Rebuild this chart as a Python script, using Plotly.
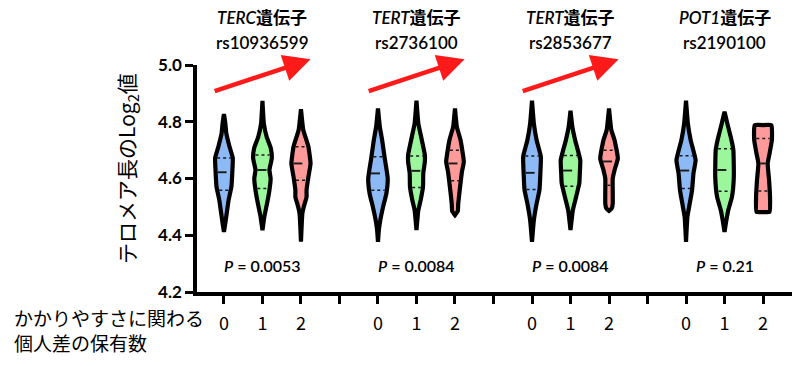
import numpy as np
import plotly.graph_objects as go

# ---------------- data ----------------
genes = ["TERC", "TERT", "TERT", "POT1"]
snps = ["rs10936599", "rs2736100", "rs2853677", "rs2190100"]
pvalues = ["0.0053", "0.0084", "0.0084", "0.21"]
genotypes = ["0", "1", "2"]
trend_arrow = [True, True, True, False]

# violin profiles: y values (top -> bottom) and relative density (half width)
g1_blue_y = [4.827, 4.794, 4.76, 4.712, 4.672, 4.624, 4.571, 4.524, 4.478, 4.443, 4.412]
g1_blue_d = [0, 1.5, 2.5, 6, 9.5, 9, 8, 5, 3, 1.5, 0]
g1_green_y = [4.874, 4.794, 4.747, 4.706, 4.671, 4.63, 4.60, 4.559, 4.513, 4.465, 4.418]
g1_green_d = [0, 1.5, 4.5, 9, 10, 7.5, 8.8, 7.5, 5, 2, 0]
g1_red_y = [4.844, 4.771, 4.712, 4.653, 4.606, 4.559, 4.535, 4.50, 4.477, 4.377]
g1_red_d = [0, 2.5, 8, 10.3, 8, 6, 6, 3, 1.5, 0]

g2_blue_y = [4.847, 4.782, 4.735, 4.677, 4.60, 4.547, 4.50, 4.453, 4.42, 4.377]
g2_blue_d = [0, 2, 4.5, 7, 10.5, 9, 5.5, 2.5, 1, 0]
g2_green_y = [4.874, 4.794, 4.747, 4.683, 4.659, 4.618, 4.571, 4.524, 4.488, 4.418]
g2_green_d = [0, 2, 5, 9, 9, 7.3, 7, 4.5, 2, 0]
g2_red_y = [4.847, 4.782, 4.735, 4.659, 4.624, 4.571, 4.512, 4.485, 4.471]
g2_red_d = [0, 2, 6, 9.5, 7.5, 5.5, 3.5, 3, 0]

g3_blue_y = [4.874, 4.794, 4.735, 4.677, 4.618, 4.559, 4.512, 4.453, 4.377]
g3_blue_d = [0, 2, 5, 9.5, 9, 8, 5, 2, 0]
g3_green_y = [4.839, 4.782, 4.735, 4.665, 4.618, 4.583, 4.535, 4.488, 4.418]
g3_green_d = [0, 2, 5, 10.5, 10, 9.5, 6, 2.5, 0]
g3_red_y = [4.847, 4.771, 4.735, 4.671, 4.63, 4.60, 4.559, 4.512, 4.495, 4.486]
g3_red_d = [0, 2.5, 6, 9.5, 6, 4, 4, 4, 3, 0]

g4_blue_y = [4.874, 4.794, 4.735, 4.665, 4.618, 4.559, 4.512, 4.465, 4.377]
g4_blue_d = [0, 2, 5, 10.3, 8, 6.5, 4, 1.5, 0]
g4_green_y = [4.835, 4.794, 4.735, 4.70, 4.606, 4.535, 4.488, 4.453, 4.412]
g4_green_d = [0, 3, 7.5, 9.5, 10, 8, 4, 2, 0]
g4_red_y = [4.788, 4.788, 4.735, 4.688, 4.653, 4.594, 4.535, 4.482, 4.482]
g4_red_d = [0, 9, 9.5, 7, 5, 6.5, 7.5, 7, 0]

# quartiles (upper quartile, median, lower quartile)
g1_quart = [(4.672, 4.622, 4.559), (4.683, 4.63, 4.565), (4.712, 4.653, 4.594)]
g2_quart = [(4.677, 4.618, 4.559), (4.679, 4.627, 4.568), (4.70, 4.653, 4.592)]
g3_quart = [(4.679, 4.62, 4.561), (4.681, 4.628, 4.573), (4.70, 4.66, 4.576)]
g4_quart = [(4.68, 4.628, 4.565), (4.705, 4.63, 4.555), (4.741, 4.653, 4.556)]

profiles = [
    [(g1_blue_y, g1_blue_d), (g1_green_y, g1_green_d), (g1_red_y, g1_red_d)],
    [(g2_blue_y, g2_blue_d), (g2_green_y, g2_green_d), (g2_red_y, g2_red_d)],
    [(g3_blue_y, g3_blue_d), (g3_green_y, g3_green_d), (g3_red_y, g3_red_d)],
    [(g4_blue_y, g4_blue_d), (g4_green_y, g4_green_d), (g4_red_y, g4_red_d)],
]
quartiles = [g1_quart, g2_quart, g3_quart, g4_quart]

# ---------------- style ----------------
fills = ["#8DB9F5", "#9CF79C", "#FF9A9A"]
WSCALE = 0.93 / 38.5       # density unit -> x units
INSET = 2.0 / 38.5
FONT = "Noto Sans CJK JP"
LFONT = "Lato, Noto Sans CJK JP"

# page has an 8px body margin; figure is sized to fill the rest of the window
OFF = 8
W, H = 800 - OFF, 366 - OFF
L, R, T, B = 197 - OFF, 0, 65 - OFF, 74
PW, PH = W - L - R, H - T - B

def py(p):  # window pixel row -> paper y
    return (H - B - (p - OFF)) / PH

def px(p):  # window pixel col -> paper x
    return (p - OFF - L) / PW

fig = go.Figure()

tickvals, ticktext = [], []
for g in range(4):
    base = g * 4
    for k in range(3):
        cx = base + k
        ys, ds = profiles[g][k]
        ys = np.array(ys, float)
        ds = np.array(ds, float) * WSCALE
        xr = cx + ds
        xl = cx - ds
        xs = np.concatenate([xr, xl[::-1], xr[:1]])
        yy = np.concatenate([ys, ys[::-1], ys[:1]])
        fig.add_trace(go.Scatter(
            x=xs, y=yy, mode="lines", fill="toself", fillcolor=fills[k],
            line=dict(color="black", width=4.2, shape="spline", smoothing=0.4),
            hoverinfo="skip", showlegend=False))
        for qi, q in enumerate(quartiles[g][k]):
            hw = np.interp(q, ys[::-1], ds[::-1]) - INSET
            hw = max(hw, 0.02)
            fig.add_trace(go.Scatter(
                x=[cx - hw, cx + hw], y=[q, q], mode="lines",
                line=dict(color="#1a1a1a", width=1.9 if qi == 1 else 1.5,
                          dash="dash" if qi == 1 else "dot"),
                hoverinfo="skip", showlegend=False))
        tickvals.append(cx)
        ticktext.append(genotypes[k])
    tickvals.append(base + 3)
    ticktext.append("")

annotations = []
for g in range(4):
    c = g * 4 + 1
    annotations.append(dict(x=c, y=py(18), xref="x", yref="paper", showarrow=False,
                            xanchor="center", yanchor="middle",
                            text=f"<i>{genes[g]}</i>遺伝子",
                            font=dict(family=LFONT, size=17, color="black", weight=600)))
    annotations.append(dict(x=c, y=py(42), xref="x", yref="paper", showarrow=False,
                            xanchor="center", yanchor="middle",
                            text=snps[g],
                            font=dict(family=LFONT, size=17, color="black", weight=600)))
    annotations.append(dict(x=c, y=py(265), xref="x", yref="paper", showarrow=False,
                            xanchor="center", yanchor="middle",
                            text=f"<i>P</i> = {pvalues[g]}",
                            font=dict(family=LFONT, size=16, color="black", weight=600)))
    if trend_arrow[g]:
        annotations.append(dict(x=g * 4 + 2.25, y=5.02, ax=g * 4 - 0.28, ay=4.906,
                                xref="x", yref="y", axref="x", ayref="y",
                                text="", showarrow=True, arrowhead=2, arrowsize=1.2,
                                arrowwidth=4.5, arrowcolor="#FF1A1A", standoff=0,
                                startstandoff=0))

annotations.append(dict(xref="paper", yref="paper", x=px(12), y=py(330),
                        xanchor="left", yanchor="middle", align="left", showarrow=False,
                        text="かかりやすさに関わる<br>個人差の保有数",
                        font=dict(family=FONT, size=19, color="black")))
annotations.append(dict(xref="paper", yref="paper", x=px(127), y=py(169),
                        xanchor="center", yanchor="middle", textangle=-90, showarrow=False,
                        text="テロメア長のLog<sub>2</sub>値",
                        font=dict(family=FONT, size=21, color="black")))

fig.update_layout(
    width=W, height=H,
    margin=dict(l=L, r=R, t=T, b=B),
    paper_bgcolor="white", plot_bgcolor="white",
    annotations=annotations,
    xaxis=dict(range=[-0.70, 14.96], tickvals=tickvals, ticktext=ticktext,
               automargin=False, ticklabelstandoff=5,
               showline=True, linecolor="black", linewidth=3.5,
               ticks="outside", ticklen=8, tickwidth=3, tickcolor="black",
               showgrid=False, zeroline=False,
               tickfont=dict(family=FONT, size=18, color="black")),
    yaxis=dict(range=[4.2, 5.0], tickvals=[4.2, 4.4, 4.6, 4.8, 5.0],
               ticktext=["4.2", "4.4", "4.6", "4.8", "5.0"],
               automargin=False,
               showline=True, linecolor="black", linewidth=3.5,
               ticks="outside", ticklen=8, tickwidth=3, tickcolor="black",
               showgrid=False, zeroline=False,
               tickfont=dict(family="Lato", size=17, color="black", weight="bold")),
)

fig.write_html("out.html")
